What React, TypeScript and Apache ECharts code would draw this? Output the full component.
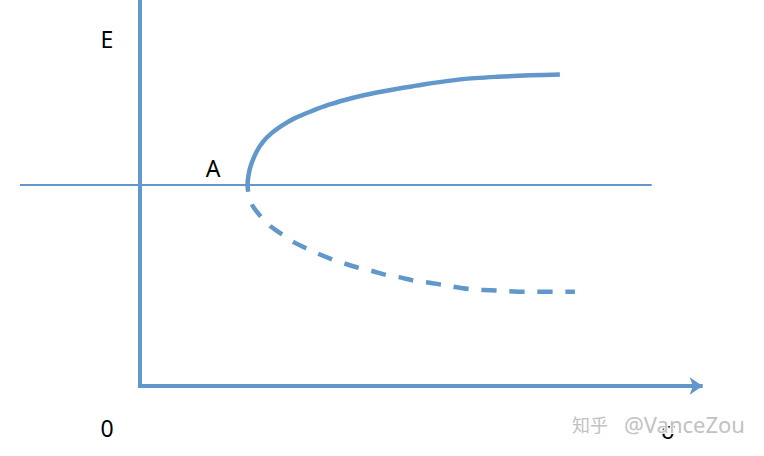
import { useRef, useEffect } from 'react'
import * as echarts from 'echarts'

// σ (x) and E (y, 0..100)
const upperSigma = [19.34, 19.23, 19.46, 19.95, 20.84, 22.02, 23.52, 25.3, 27.68, 30.66, 33.63, 36.61, 39.59, 42.55, 45.54, 48.52, 50.89, 57.68, 63.75, 69.64, 75.0]
const upperE = [50.3, 52.1, 55.1, 57.7, 60.7, 63.3, 65.5, 67.4, 69.4, 71.2, 72.8, 74.1, 75.2, 76.1, 76.9, 77.6, 78.2, 79.5, 80.1, 80.5, 80.7]

const lowerSigma = [19.34, 20.05, 21.73, 23.39, 25.59, 27.55, 29.95, 31.96, 34.52, 36.61, 39.29, 41.48, 44.16, 46.25, 48.98, 51.2, 53.98, 58.93, 63.93, 69.1, 74.1, 77.68]
const lowerE = [50.3, 46.9, 43.7, 41.3, 39.1, 37.2, 35.5, 34.2, 32.7, 31.7, 30.5, 29.8, 28.7, 28.2, 27.3, 26.9, 26.2, 25.1, 24.7, 24.4, 24.4, 24.4]

// the level of point A
const levelSigma = [-21.4, 91.4]
const levelE = [52.1, 52.1]

// the σ axis, drawn as an arrow
const axisSigma = [0, 100.5]

const zip = (xs: number[], ys: number[]) => xs.map((x, i) => [x, ys[i]])

const BLUE = '#6197cb'
const FONT = '"Noto Sans", "Open Sans", sans-serif'

export default function App() {
  const chartRef = useRef<HTMLDivElement>(null)

  useEffect(() => {
    if (!chartRef.current) return
    const chart = echarts.init(chartRef.current, null, { renderer: 'svg' })

    const label = (text: string, x: number, y: number, size = 23, color = '#000') => ({
      type: 'text',
      x,
      y,
      style: {
        text,
        fill: color,
        fontSize: size,
        fontFamily: FONT,
        align: 'center',
        verticalAlign: 'middle',
      },
    })

    chart.setOption({
      animation: false,
      backgroundColor: '#fff',
      grid: { left: 20, top: 0, width: 686.6, height: 386 },
      xAxis: {
        type: 'value',
        min: -21.4,
        max: 101.2,
        axisLine: { show: false },
        axisTick: { show: false },
        axisLabel: { show: false },
        splitLine: { show: false },
      },
      yAxis: {
        type: 'value',
        min: 0,
        max: 100,
        axisLine: {
          show: true,
          onZero: true,
          lineStyle: { color: BLUE, width: 4, cap: 'square' },
        },
        axisTick: { show: false },
        axisLabel: { show: false },
        splitLine: { show: false },
      },
      series: [
        {
          type: 'line',
          data: zip(levelSigma, levelE),
          symbol: 'none',
          silent: true,
          lineStyle: { color: BLUE, width: 2 },
          z: 1,
          markLine: {
            silent: true,
            symbol: ['none', 'arrow'],
            symbolSize: [13, 13],
            label: { show: false },
            emphasis: { disabled: true },
            lineStyle: { color: BLUE, width: 4, type: 'solid' },
            data: [[{ coord: [axisSigma[0], 0] }, { coord: [axisSigma[1], 0] }]],
          },
        },
        {
          type: 'line',
          data: zip(upperSigma, upperE),
          smooth: 0.25,
          symbol: 'none',
          silent: true,
          lineStyle: { color: BLUE, width: 4.5 },
          z: 3,
        },
        {
          type: 'line',
          data: zip(lowerSigma, lowerE),
          smooth: 0.25,
          symbol: 'none',
          silent: true,
          lineStyle: { color: BLUE, width: 4.5, type: [15, 13], dashOffset: 15 },
          z: 3,
        },
      ],
      graphic: [
        label('E', 107, 39),
        label('A', 213, 168),
        label('0', 107, 428),
        label('σ', 668, 430),
        {
          type: 'text',
          x: 572,
          y: 424,
          z: 100,
          style: {
            text: '知乎',
            fill: '#c2c2c2',
            stroke: '#fff',
            lineWidth: 2,
            fontSize: 18,
            fontFamily: '"Noto Sans CJK SC", sans-serif',
            align: 'left',
            verticalAlign: 'middle',
          },
        },
        {
          type: 'text',
          x: 624,
          y: 424,
          z: 100,
          style: {
            text: '@VanceZou',
            fill: '#c2c2c2',
            stroke: '#fff',
            lineWidth: 2,
            fontSize: 22,
            fontFamily: FONT,
            align: 'left',
            verticalAlign: 'middle',
          },
        },
      ],
    })

    return () => chart.dispose()
  }, [])

  return (
    <div
      ref={chartRef}
      style={{ position: 'fixed', left: 0, top: 0, width: 764, height: 456 }}
    />
  )
}
